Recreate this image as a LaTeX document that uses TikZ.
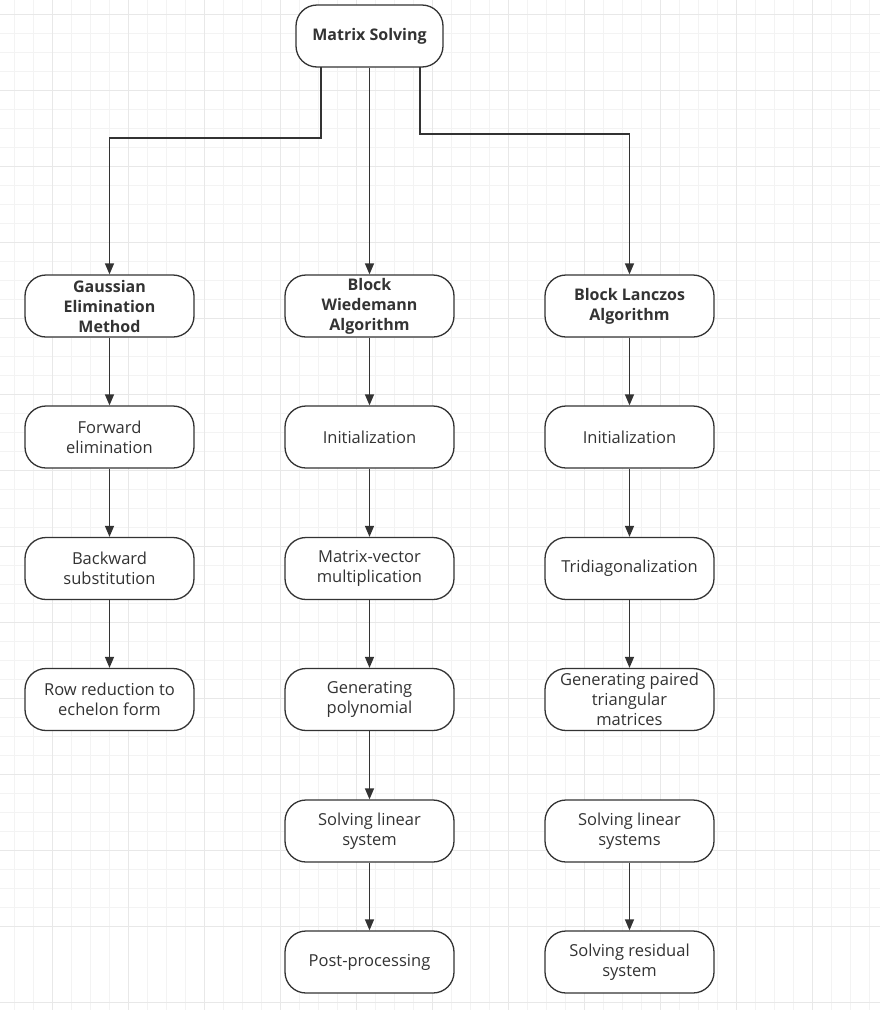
\documentclass[tikz,border=0pt]{standalone}
\usepackage{fontspec}
\setmainfont{Open Sans}
\usetikzlibrary{arrows.meta}
\definecolor{ln}{HTML}{333333}
\definecolor{gminor}{HTML}{F3F3F3}
\definecolor{gmajor}{HTML}{E8E8E8}
\tikzset{
  box/.style={draw=ln, line width=1.3pt, rounded corners=21pt, minimum width=169pt, minimum height=62pt,
    align=center, font=\fontsize{16.5}{20}\selectfont, text=ln, inner sep=2pt, fill=white},
  topbox/.style={box, minimum width=147pt, font=\fontsize{16}{20}\selectfont\bfseries},
  hbox/.style={box, font=\fontsize{16}{20}\selectfont\bfseries},
  conn/.style={draw=ln, line width=1.3pt, -{Triangle[length=11pt,width=9pt]}},
}
\begin{document}
\begin{tikzpicture}[x=1pt,y=-1pt]
\useasboundingbox (0,0) rectangle (880,1010);
\fill[white] (0,0) rectangle (880,1010);
\foreach \i in {0,...,48} {
  \draw[gminor, line width=0.8pt] ({-24+19*\i},0) -- ({-24+19*\i},1010);
  \draw[gminor, line width=0.8pt] (0,{14.7-19+19*\i}) -- (880,{14.7-19+19*\i});
}
\foreach \i in {0,...,13} {
  \draw[gmajor, line width=1pt] ({-24+76*\i},0) -- ({-24+76*\i},1010);
  \draw[gmajor, line width=1pt] (0,{14.7+76*\i}) -- (880,{14.7+76*\i});
}
% top
\node[topbox] (top) at (369.5,36) {Matrix Solving};
% column 1
\node[hbox] (g) at (109.5,306) {Gaussian\\Elimination\\Method};
\node[box] (g1) at (109.5,437) {Forward\\elimination};
\node[box] (g2) at (109.5,568.5) {Backward\\substitution};
\node[box] (g3) at (109.5,699.5) {Row reduction to\\echelon form};
% column 2
\node[hbox] (w) at (369.5,306) {Block\\Wiedemann\\Algorithm};
\node[box] (w1) at (369.5,437) {Initialization};
\node[box] (w2) at (369.5,568.5) {Matrix-vector\\multiplication};
\node[box] (w3) at (369.5,699.5) {Generating\\polynomial};
\node[box] (w4) at (369.5,831) {Solving linear\\system};
\node[box] (w5) at (369.5,962) {Post-processing};
% column 3
\node[hbox] (l) at (629.5,306) {Block Lanczos\\Algorithm};
\node[box] (l1) at (629.5,437) {Initialization};
\node[box] (l2) at (629.5,568.5) {Tridiagonalization};
\node[box] (l3) at (629.5,699.5) {Generating paired\\triangular\\matrices};
\node[box] (l4) at (629.5,831) {Solving linear\\systems};
\node[box] (l5) at (629.5,962) {Solving residual\\system};
% connectors from top
\coordinate (ta) at (321,67);
\coordinate (tc) at (420,67);
\draw[conn] (ta) -- (321,138) -| (g.north);
\draw[conn] (top) -- (w);
\draw[conn] (tc) -- (420,134) -| (l.north);
% chains
\draw[conn] (g) -- (g1);
\draw[conn] (g1) -- (g2);
\draw[conn] (g2) -- (g3);
\draw[conn] (w) -- (w1);
\draw[conn] (w1) -- (w2);
\draw[conn] (w2) -- (w3);
\draw[conn] (w3) -- (w4);
\draw[conn] (w4) -- (w5);
\draw[conn] (l) -- (l1);
\draw[conn] (l1) -- (l2);
\draw[conn] (l2) -- (l3);
\draw[conn] (l4) -- (l5);
\end{tikzpicture}
\end{document}
